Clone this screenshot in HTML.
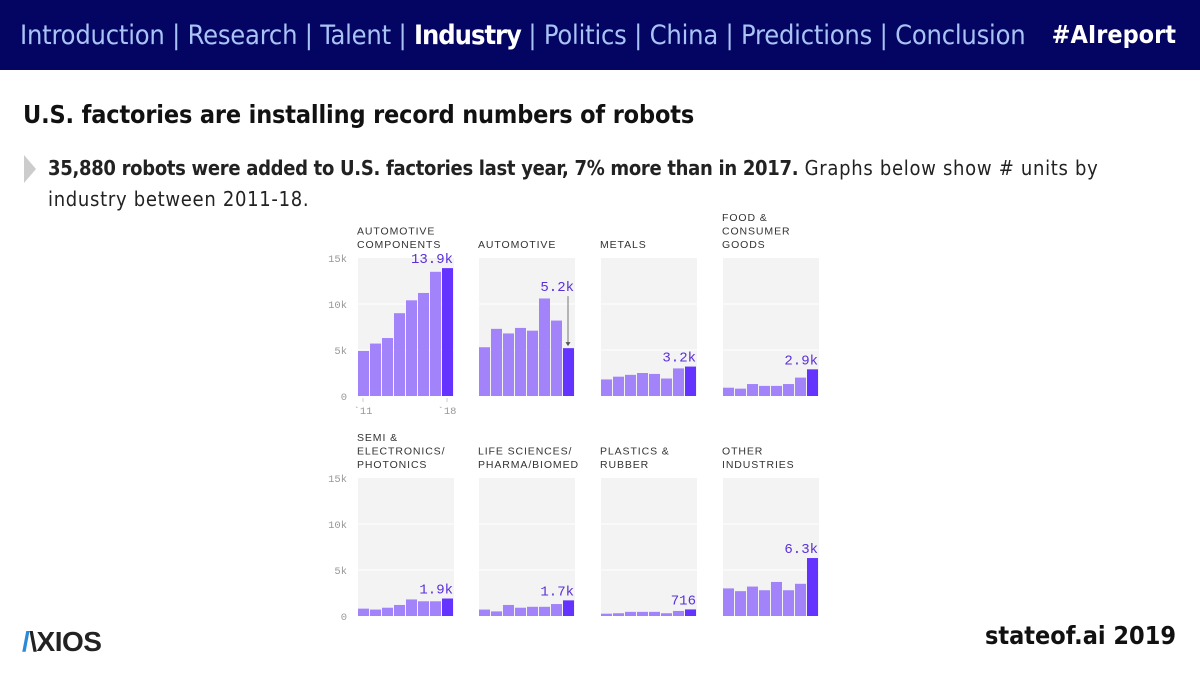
<!DOCTYPE html>
<html><head><meta charset="utf-8"><style>
body{margin:0;width:1200px;height:675px;background:#fff;font-family:"Liberation Sans",sans-serif;position:relative;overflow:hidden}
#hdr{position:absolute;left:0;top:0;width:1200px;height:70px;background:#040463}
#nav{position:absolute;left:20px;top:20px;font-size:27px;color:#a9c3f5;white-space:nowrap;font-family:"DejaVu Sans Condensed","Liberation Sans",sans-serif;letter-spacing:-0.2px}
#nav b{color:#fff;letter-spacing:-1px}
#tag{position:absolute;right:24px;top:20px;font-size:25px;color:#fff;font-weight:bold;font-family:"DejaVu Sans Condensed","Liberation Sans",sans-serif}
#title{position:absolute;left:23px;top:100px;font-size:25px;font-weight:bold;color:#111;font-family:"DejaVu Sans Condensed","Liberation Sans",sans-serif;letter-spacing:-0.15px}
#sub{position:absolute;left:48px;top:153px;width:1100px;font-size:20px;line-height:31px;color:#222;font-family:"DejaVu Sans Condensed","Liberation Sans",sans-serif;letter-spacing:0.7px}
#sub b{letter-spacing:-0.3px}
#tri{position:absolute;left:24px;top:155px;width:0;height:0;border-top:14px solid transparent;border-bottom:14px solid transparent;border-left:12px solid #ccc}
#axios{position:absolute;left:22px;top:626px;font-size:28px;font-weight:bold;color:#222;letter-spacing:-0.5px}
#soa{position:absolute;right:24px;top:621px;font-size:25px;font-weight:bold;color:#111;font-family:"DejaVu Sans Condensed","Liberation Sans",sans-serif}
</style></head><body>
<div id="hdr">
<div id="nav">Introduction | Research | Talent | <b>Industry</b> | Politics | China | Predictions | Conclusion</div>
<div id="tag">#AIreport</div></div>
<div id="title">U.S. factories are installing record numbers of robots</div>
<div id="tri"></div>
<div id="sub"><b>35,880 robots were added to U.S. factories last year, 7% more than in 2017.</b> Graphs below show # units by industry between 2011-18.</div>
<svg id="chart" width="1200" height="675" style="position:absolute;left:0;top:0"></svg>
<div id="axios"><span style="color:#2a8ad8">/</span>\XIOS</div>
<div id="soa">stateof.ai 2019</div>
<script>
const titles=[["AUTOMOTIVE","COMPONENTS"],["AUTOMOTIVE"],["METALS"],["FOOD &","CONSUMER","GOODS"],["SEMI &","ELECTRONICS/","PHOTONICS"],["LIFE SCIENCES/","PHARMA/BIOMED"],["PLASTICS &","RUBBER"],["OTHER","INDUSTRIES"]];
const autoComp=[4.9,5.7,6.3,9.0,10.4,11.2,13.5,13.9];
const automotive=[5.3,7.3,6.8,7.4,7.1,10.6,8.2,5.2];
const metals=[1.8,2.1,2.3,2.5,2.4,1.9,3.0,3.2];
const food=[0.9,0.8,1.3,1.1,1.1,1.3,2.0,2.9];
const semi=[0.8,0.7,0.9,1.2,1.8,1.6,1.6,1.9];
const life=[0.7,0.5,1.2,0.9,1.0,1.0,1.3,1.7];
const plastics=[0.25,0.3,0.45,0.45,0.45,0.3,0.55,0.716];
const other=[3.0,2.7,3.2,2.8,3.7,2.8,3.5,6.3];
const series=[autoComp,automotive,metals,food,semi,life,plastics,other];
const endLabels=["13.9k","5.2k","3.2k","2.9k","1.9k","1.7k","716","6.3k"];
const yTicks=[0,5,10,15];
const yTickLabels=["0","5k","10k","15k"];
const svg=document.getElementById('chart');const NS='http://www.w3.org/2000/svg';
function mk(t,a,p){const e=document.createElementNS(NS,t);for(const k in a)e.setAttribute(k,a[k]);(p||svg).appendChild(e);return e;}
const panelX=[358,479,601,723],rowBottom=[396,616],PH=138,PW=96,YMAX=15;
function y(v,r){return rowBottom[r]-v/YMAX*PH;}
function x(i,c){return panelX[c]+i*PW/8;}
for(let r=0;r<2;r++){
 yTicks.forEach((t,i)=>{const tx=mk('text',{x:347,y:y(t,r)+4,'text-anchor':'end','font-size':10.5,fill:'#999','font-family':'Liberation Mono'});tx.textContent=yTickLabels[i];
 
 });
}
series.forEach((s,p)=>{
 const r=Math.floor(p/4),c=p%4;
 const g=mk('g',{});
 
 
 mk('rect',{x:panelX[c],y:y(15,r),width:PW,height:PH,fill:'#f3f3f3'},g);
 [5,10].forEach(t=>mk('line',{x1:panelX[c],x2:panelX[c]+PW,y1:y(t,r),y2:y(t,r),stroke:'#fff','stroke-width':1},g));
 const tl=titles[p];
 tl.forEach((line,i)=>{const t=mk('text',{x:panelX[c]-1,y:y(15,r)-10-(tl.length-1-i)*13.5,'font-size':10.5,fill:'#333','letter-spacing':0.9},g);t.textContent=line;});
 s.forEach((v,i)=>{const b=mk('rect',{x:x(i,c),y:y(v,r),width:PW/8-1,height:v/YMAX*PH,fill:i==7?'#6533ff':'#a283fa'},g);
 
 });
 const last=s[7],lx=x(8,c)-1;
 let ly=y(last,r)-5;
 if(p==1){ly=y(last,r)-57;mk('line',{x1:lx-6,x2:lx-6,y1:ly+5,y2:y(last,r)-3,stroke:'#555','stroke-width':0.8},g);mk('path',{d:`M${lx-8.5} ${y(last,r)-6}L${lx-6} ${y(last,r)-2}L${lx-3.5} ${y(last,r)-6}Z`,fill:'#555'},g);}
 const lb=mk('text',{x:lx,y:ly,'text-anchor':'end','font-size':14,fill:'#5a2fd8','font-family':'Liberation Mono'},g);lb.textContent=endLabels[p];
 
 
});
[["`11",x(0,0)+5],["`18",x(7,0)+5]].forEach(a=>{const t=mk('text',{x:a[1],y:414,'text-anchor':'middle','font-size':10.5,fill:'#999','font-family':'Liberation Mono'});t.textContent=a[0];
 
 
 mk('line',{x1:a[1],x2:a[1],y1:398,y2:402,stroke:'#ccc'});});
</script>
</body></html>
